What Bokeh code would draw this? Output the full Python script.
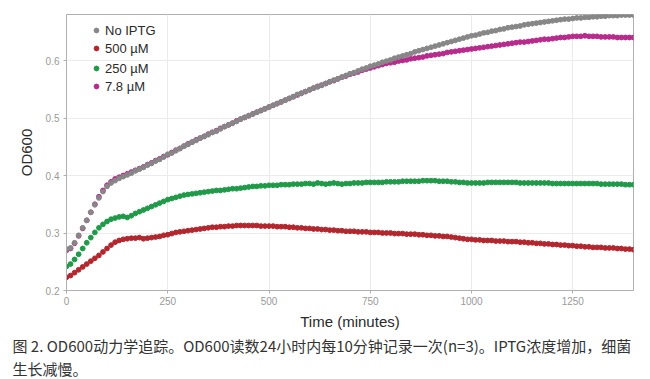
from bokeh.plotting import figure
from bokeh.models import Legend, LegendItem, Title, SingleIntervalTicker, Range1d
from bokeh.embed import file_html
from bokeh.resources import INLINE

# time points (minutes), one reading every 10 minutes
time_min = list(range(0, 1410, 10))

od_no_iptg = [
    .272, .274, .283, .296, .309, .322, .336, .349, .361, .372,
    .381, .387, .391, .395, .398, .401, .404, .408, .411, .414,
    .418, .421, .425, .428, .432, .437, .439, .443, .447, .451,
    .454, .458, .461, .465, .468, .471, .475, .477, .481, .485,
    .488, .491, .494, .498, .501, .504, .507, .510, .513, .516,
    .519, .522, .525, .528, .531, .534, .537, .541, .543, .546,
    .549, .552, .554, .557, .560, .563, .566, .568, .571, .574,
    .577, .579, .582, .585, .587, .590, .592, .594, .597, .599,
    .601, .604, .606, .608, .610, .612, .615, .617, .619, .621,
    .623, .625, .627, .629, .631, .633, .635, .637, .639, .641,
    .643, .644, .646, .648, .649, .651, .652, .654, .655, .657,
    .658, .659, .660, .662, .663, .664, .665, .666, .667, .668,
    .669, .670, .671, .672, .672, .673, .674, .674, .675, .675,
    .676, .676, .677, .677, .678, .678, .678, .679, .679, .679,
    .679,
]

od_7_8uM = [
    .270, .273, .282, .295, .308, .322, .336, .350, .363, .374,
    .383, .389, .394, .397, .400, .403, .406, .409, .412, .415,
    .419, .422, .426, .429, .433, .436, .440, .444, .447, .451,
    .455, .458, .462, .465, .468, .472, .475, .478, .482, .485,
    .488, .491, .495, .498, .501, .504, .507, .510, .513, .516,
    .519, .522, .525, .528, .531, .534, .537, .540, .543, .546,
    .549, .552, .555, .557, .560, .563, .565, .568, .571, .573,
    .576, .578, .580, .583, .585, .587, .589, .591, .593, .595,
    .596, .597, .599, .600, .601, .603, .604, .605, .606, .608,
    .609, .610, .611, .612, .614, .615, .616, .617, .618, .619,
    .620, .621, .622, .623, .624, .625, .626, .627, .628, .629,
    .630, .631, .632, .632, .633, .634, .635, .636, .637, .637,
    .638, .639, .640, .640, .641, .642, .642, .642, .643, .642,
    .642, .642, .641, .641, .641, .641, .640, .640, .640, .640,
    .640,
]

od_250uM = [
    .242, .246, .254, .263, .273, .283, .292, .301, .309, .315,
    .320, .324, .326, .328, .329, .327, .330, .334, .337, .340,
    .343, .346, .349, .352, .355, .358, .360, .362, .364, .366,
    .367, .368, .369, .370, .371, .372, .373, .374, .374, .375,
    .376, .377, .377, .378, .379, .380, .381, .381, .382, .382,
    .383, .383, .383, .384, .384, .384, .385, .385, .385, .386,
    .386, .385, .387, .386, .385, .386, .387, .386, .385, .386,
    .386, .387, .387, .387, .388, .388, .388, .388, .388, .389,
    .389, .389, .389, .390, .390, .390, .390, .390, .391, .391,
    .391, .391, .390, .390, .390, .389, .389, .388, .388, .387,
    .387, .387, .387, .387, .388, .388, .388, .388, .388, .388,
    .388, .388, .387, .387, .387, .387, .387, .387, .387, .387,
    .386, .386, .386, .386, .386, .386, .386, .386, .386, .386,
    .386, .386, .385, .385, .385, .385, .385, .385, .384, .384,
    .384,
]

od_500uM = [
    .223, .226, .231, .236, .241, .246, .251, .256, .261, .267,
    .273, .279, .284, .287, .289, .290, .291, .291, .292, .290,
    .291, .292, .293, .294, .296, .297, .299, .301, .302, .303,
    .304, .305, .306, .307, .308, .309, .310, .310, .311, .311,
    .312, .312, .313, .313, .313, .313, .313, .313, .312, .312,
    .312, .312, .311, .311, .311, .310, .310, .309, .309, .308,
    .308, .307, .307, .306, .306, .305, .305, .304, .304, .303,
    .303, .303, .302, .302, .302, .301, .301, .301, .300, .300,
    .300, .299, .299, .299, .298, .298, .298, .297, .297, .296,
    .296, .295, .295, .294, .294, .293, .292, .291, .290, .289,
    .289, .288, .288, .287, .287, .287, .286, .286, .286, .285,
    .285, .285, .284, .284, .283, .283, .282, .282, .281, .281,
    .280, .280, .279, .279, .278, .278, .277, .277, .276, .276,
    .275, .275, .275, .274, .274, .274, .273, .273, .272, .272,
    .271,
]

labels = ["No IPTG", "500 µM", "250 µM", "7.8 µM"]
x_ticks_interval = 250
y_ticks_interval = 0.1

c_gray = "#878787"
c_red = "#b3262e"
c_green = "#1f9a48"
c_mag = "#b82a8c"

p = figure(width=642, height=379, output_backend="svg", toolbar_location=None,
           x_range=Range1d(0, 1400), y_range=Range1d(0.2, 0.68),
           min_border_left=66, min_border_right=9, min_border_top=14,
           min_border_bottom=89)

p.background_fill_color = "white"
p.border_fill_color = "white"
p.outline_line_color = "#b0b0b0"
p.outline_line_width = 1

mk = dict(size=4.8, marker="circle")
r_mag = p.scatter(time_min, od_7_8uM, fill_color=c_mag, line_color=c_mag, **mk)
r_gray = p.scatter(time_min, od_no_iptg, fill_color=c_gray, line_color=c_gray, **mk)
r_green = p.scatter(time_min, od_250uM, fill_color=c_green, line_color=c_green, **mk)
r_red = p.scatter(time_min, od_500uM, fill_color=c_red, line_color=c_red, **mk)

p.xaxis.ticker = SingleIntervalTicker(interval=x_ticks_interval)
p.yaxis.ticker = SingleIntervalTicker(interval=y_ticks_interval)
p.xgrid.ticker = p.xaxis.ticker
p.ygrid.ticker = p.yaxis.ticker
p.xgrid.grid_line_color = "#ebebeb"
p.ygrid.grid_line_color = "#ebebeb"

for ax in (p.xaxis, p.yaxis):
    ax.axis_line_color = "#b0b0b0"
    ax.major_tick_line_color = "#b0b0b0"
    ax.major_tick_out = 3
    ax.major_tick_in = 0
    ax.minor_tick_line_color = None
    ax.major_label_text_font = "Liberation Sans"
    ax.major_label_text_font_size = "10px"
    ax.major_label_text_color = "#9a9a9a"
    ax.axis_label_text_font = "Liberation Sans"
    ax.axis_label_text_font_size = "15px"
    ax.axis_label_text_font_style = "normal"
    ax.axis_label_text_color = "#2a2a2a"

p.xaxis.major_label_standoff = 2
p.yaxis.major_label_standoff = 3
p.xaxis.axis_label = "Time (minutes)"
p.yaxis.axis_label = "OD600"
p.xaxis.axis_label_standoff = 5
p.yaxis.axis_label_standoff = 8

leg_style = dict(background_fill_alpha=0, border_line_alpha=0, padding=0, margin=0,
                 spacing=0, glyph_width=12, glyph_height=18, label_height=18,
                 label_standoff=3, label_text_font="Liberation Sans",
                 label_text_font_size="13px", label_text_color="#2a2a2a")
legend1 = Legend(items=[LegendItem(label=labels[0], renderers=[r_gray]),
                        LegendItem(label=labels[1], renderers=[r_red])],
                 location=(24, 233), **leg_style)
legend2 = Legend(items=[LegendItem(label=labels[2], renderers=[r_green]),
                        LegendItem(label=labels[3], renderers=[r_mag])],
                 location=(24, 195), **leg_style)
p.add_layout(legend1)
p.add_layout(legend2)

cap1 = "图 2. OD600动力学追踪。OD600读数24小时内每10分钟记录一次(n=3)。IPTG浓度增加，细菌"
cap2 = "生长减慢。"
for txt, so in ((cap1, 0), (cap2, 1)):
    p.add_layout(Title(text=txt, align="left", offset=-54, standoff=so,
                       text_font="Noto Sans CJK SC", text_font_size="15px",
                       text_font_style="normal", text_color="#333333"), "below")

open("out.html", "w").write(file_html(p, INLINE))
